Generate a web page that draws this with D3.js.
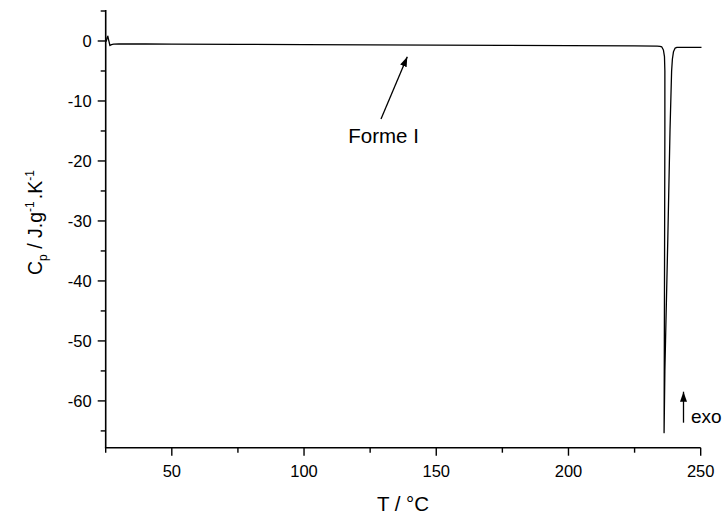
<!DOCTYPE html>
<html><head><meta charset="utf-8">
<script src="https://cdn.jsdelivr.net/npm/d3@7"></script>
<style>html,body{margin:0;padding:0;background:#fff;} text{font-family:"Liberation Sans",Arial,sans-serif;fill:#000;}</style>
</head><body>
<svg id="c" width="726" height="518"></svg>
<script>
// DSC curve: temperature (°C) and Cp (J.g-1.K-1)
const temps = [25.2,25.5,25.8,26.1,26.6,27.2,28.0,30,40,50,75,100,125,150,175,200,225,233.5,234.6,235.3,235.9,236.3,236.45,236.45,236.35,236.25,236.15,236.25,236.45,236.7,237.55,238.4,239.0,239.3,239.7,240.3,241.0,245,250.3];
const cp    = [-0.1,0.5,0.8,0.2,-0.75,-0.6,-0.52,-0.5,-0.5,-0.52,-0.56,-0.6,-0.65,-0.7,-0.74,-0.78,-0.83,-0.86,-0.9,-1.0,-1.5,-2.6,-5,-15,-33,-50,-65.3,-62,-55,-50,-33.2,-14.8,-5,-3,-1.8,-1.2,-1.08,-1.05,-1.05];
const xTicks = [50,100,150,200,250];
const xMinor = [25,75,125,175,225];
const yTicks = [0,-10,-20,-30,-40,-50,-60];
const yMinor = [5,-5,-15,-25,-35,-45,-55,-65];

const svg = d3.select("#c");
const x = d3.scaleLinear().domain([25,250]).range([105.7,700.7]);
const y = d3.scaleLinear().domain([-67.8,5]).range([447.7,11]);

const g = svg.append("g");
// axes lines
g.append("line").attr("x1",x(25)).attr("x2",x(25)).attr("y1",10).attr("y2",y(-67.8)).attr("stroke","#000").attr("stroke-width",1.6);
g.append("line").attr("x1",x(25)-0.8).attr("x2",x(250)).attr("y1",y(-67.8)).attr("y2",y(-67.8)).attr("stroke","#000").attr("stroke-width",1.6);

// y ticks
g.selectAll(".ym").data(yTicks).join("line").attr("x1",x(25)-8).attr("x2",x(25)).attr("y1",d=>y(d)).attr("y2",d=>y(d)).attr("stroke","#000").attr("stroke-width",1.4);
g.selectAll(".yn").data(yMinor).join("line").attr("x1",x(25)-5).attr("x2",x(25)).attr("y1",d=>y(d)).attr("y2",d=>y(d)).attr("stroke","#000").attr("stroke-width",1.4);
g.selectAll(".yl").data(yTicks).join("text").attr("x",91.7).attr("y",d=>y(d)+6).attr("text-anchor","end").attr("font-size",16.5).text(d=>String(d));

// x ticks
const yb = y(-67.8);
g.selectAll(".xm").data(xTicks).join("line").attr("x1",d=>x(d)).attr("x2",d=>x(d)).attr("y1",yb).attr("y2",yb+8).attr("stroke","#000").attr("stroke-width",1.4);
g.selectAll(".xn").data(xMinor).join("line").attr("x1",d=>x(d)).attr("x2",d=>x(d)).attr("y1",yb).attr("y2",yb+5).attr("stroke","#000").attr("stroke-width",1.4);
g.selectAll(".xl").data(xTicks).join("text").attr("x",d=>x(d)).attr("y",477.3).attr("text-anchor","middle").attr("font-size",16.5).text(d=>String(d));

// axis titles
g.append("text").attr("x",403).attr("y",510.5).attr("text-anchor","middle").attr("font-size",20.5).text("T / °C");
const yt = g.append("text").attr("transform","translate(41.7,275) rotate(-90)").attr("font-size",19.5);
yt.append("tspan").text("C");
yt.append("tspan").attr("font-size",12).attr("dy",5).text("p");
yt.append("tspan").attr("dy",-5).text(" / J.g");
yt.append("tspan").attr("font-size",12).attr("dy",-8).text("-1");
yt.append("tspan").attr("dy",8).attr("dx",2).text(".K");
yt.append("tspan").attr("font-size",12).attr("dy",-8).text("-1");

// data line
const line = d3.line().x((d,i)=>x(temps[i])).y((d,i)=>y(cp[i]));
g.append("path").datum(cp).attr("d",line).attr("fill","none").attr("stroke","#000").attr("stroke-width",1.3).attr("stroke-linejoin","round");

// annotation arrows
svg.append("defs").append("marker").attr("id","ah").attr("viewBox","0 0 10 10").attr("refX",10).attr("refY",5)
  .attr("markerWidth",10).attr("markerHeight",10).attr("markerUnits","userSpaceOnUse").attr("orient","auto")
  .append("path").attr("d","M0,1.5 L10,5 L0,8.5 Z").attr("fill","#000");
g.append("line").attr("x1",381).attr("y1",119).attr("x2",407.3).attr("y2",56.7).attr("stroke","#000").attr("stroke-width",1.3).attr("marker-end","url(#ah)");
g.append("text").attr("x",348.3).attr("y",143.3).attr("font-size",20.5).text("Forme I");

g.append("line").attr("x1",683.5).attr("y1",422.7).attr("x2",683.5).attr("y2",391.7).attr("stroke","#000").attr("stroke-width",1.3).attr("marker-end","url(#ah)");
g.append("text").attr("x",691).attr("y",423.3).attr("font-size",19).text("exo");
</script>
</body></html>
